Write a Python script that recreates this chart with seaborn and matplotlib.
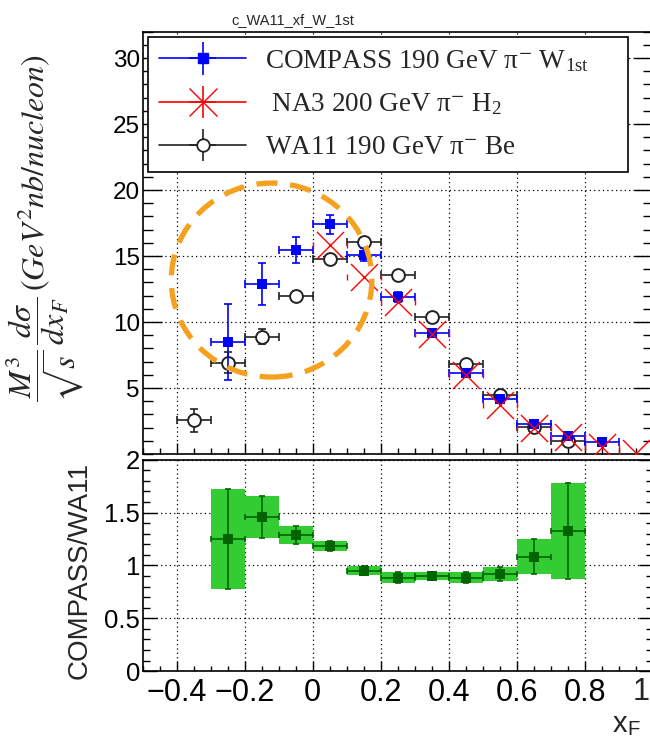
"""
Drell-Yan x_F distribution: COMPASS W (1st) vs NA3 H2 vs WA11 Be, plus
COMPASS/WA11 ratio panel underneath. ROOT-style look, drawn with seaborn.
"""
import matplotlib

matplotlib.use("Agg")
import matplotlib.pyplot as plt  # noqa: E402
import numpy as np  # noqa: E402
import seaborn as sns  # noqa: E402
from matplotlib.legend_handler import HandlerErrorbar  # noqa: E402
from matplotlib.patches import Ellipse  # noqa: E402
from matplotlib.ticker import MultipleLocator  # noqa: E402

# --- data -----------------------------------------------------------------
bin_half = 0.05

compass_xf = [-0.25, -0.15, -0.05, 0.05, 0.15, 0.25, 0.35, 0.45, 0.55, 0.65, 0.75, 0.85]
compass_val = [8.5, 12.9, 15.45, 17.4, 15.1, 11.9, 9.15, 6.1, 4.2, 2.3, 1.35, 0.88]
compass_err = [2.9, 1.6, 1.0, 0.7, 0.5, 0.4, 0.3, 0.25, 0.2, 0.15, 0.12, 0.1]

na3_xf = [0.05, 0.15, 0.25, 0.35, 0.45, 0.55, 0.65, 0.75, 0.85, 0.95]
na3_val = [15.85, 13.4, 11.5, 9.1, 5.95, 3.7, 2.0, 1.3, 0.5, 0.05]

wa11_xf = [-0.35, -0.25, -0.15, -0.05, 0.05, 0.15, 0.25, 0.35, 0.45, 0.55, 0.65, 0.75]
wa11_val = [2.55, 6.9, 8.9, 12.0, 14.8, 16.1, 13.6, 10.35, 6.8, 4.45, 2.05, 1.0]
wa11_err = [0.85, 0.8, 0.55, 0.35, 0.3, 0.3, 0.3, 0.25, 0.2, 0.15, 0.1, 0.1]

ratio_xf = [-0.25, -0.15, -0.05, 0.05, 0.15, 0.25, 0.35, 0.45, 0.55, 0.65, 0.75]
ratio_val = [1.25, 1.46, 1.29, 1.185, 0.95, 0.885, 0.9, 0.885, 0.92, 1.08, 1.325]
ratio_err = [0.47, 0.2, 0.085, 0.05, 0.04, 0.05, 0.04, 0.055, 0.065, 0.165, 0.45]

top_yticks = [5, 10, 15, 20, 25, 30]
bot_yticks = [0, 0.5, 1, 1.5, 2]
bot_yticklabels = ["0", "0.5", "1", "1.5", "2"]
xticks = [-0.4, -0.2, 0, 0.2, 0.4, 0.6, 0.8, 1.0]
# the label of the last tick (on the cropped right edge) is drawn separately
xticklabels = ["\u22120.4", "\u22120.2", "0", "0.2", "0.4", "0.6", "0.8", ""]
edge_label = "1"

labels = [
    "COMPASS 190 GeV \u03c0$^{-}$ W$_{\\mathregular{1st}}$",
    " NA3 200 GeV \u03c0$^{-}$ H$_{\\mathregular{2}}$",
    "WA11 190 GeV \u03c0$^{-}$ Be",
]

# hand-drawn highlight around the low-x_F region (centre, full axes)
circle_xy = (-0.121, 13.18)
circle_w, circle_h = 0.59, 14.7

C_BLUE, C_RED, C_BLACK = "#0000FF", "#FF0000", "#222222"
C_BAND, C_DGREEN = "#33CC33", "#006400"
C_ORANGE = "#F5A01E"

sns.set_theme(style="ticks")
plt.rcParams["font.family"] = ["Liberation Sans", "DejaVu Sans"]
plt.rcParams["mathtext.fontset"] = "stix"
plt.rcParams["axes.edgecolor"] = "black"
plt.rcParams["xtick.color"] = "black"
plt.rcParams["ytick.color"] = "black"

W, H = 650, 740
fig = plt.figure(figsize=(W / 100, H / 100), dpi=100)
ax_top = fig.add_axes([142.7 / W, 1 - 454 / H, 510 / W, 422.3 / H])
ax_bot = fig.add_axes([142.7 / W, 1 - 671.2 / H, 510 / W, 211.6 / H])

# --- top panel --------------------------------------------------------------
ax_top.errorbar(wa11_xf, wa11_val, xerr=bin_half, yerr=wa11_err, fmt="none",
                ecolor=C_BLACK, elinewidth=1.2, capsize=2.8, capthick=1.2, zorder=2)
sns.scatterplot(x=wa11_xf, y=wa11_val, marker="o", s=85, facecolor="white",
                edgecolor=C_BLACK, linewidth=1.4, zorder=3, ax=ax_top)

ax_top.errorbar(compass_xf, compass_val, xerr=bin_half, yerr=compass_err, fmt="none",
                ecolor=C_BLUE, elinewidth=1.2, capsize=2.8, capthick=1.2, zorder=4)
sns.scatterplot(x=compass_xf, y=compass_val, marker="s", s=52, color=C_BLUE,
                edgecolor=C_BLUE, linewidth=0, zorder=5, ax=ax_top)

# NA3: x-error line is hidden behind the big marker in ROOT, only caps show
ax_top.errorbar(na3_xf, na3_val, xerr=bin_half, fmt="none", ecolor=C_RED,
                elinewidth=0, capsize=2.5, capthick=1.0, zorder=6)
sns.scatterplot(x=na3_xf, y=na3_val, marker="x", s=380, color=C_RED,
                linewidth=1.0, zorder=7, ax=ax_top)

ax_top.add_patch(Ellipse(circle_xy, circle_w, circle_h, fill=False,
                         edgecolor=C_ORANGE, lw=3.8, linestyle=(0, (4, 2.4)),
                         zorder=10))

# legend proxies (ROOT "lep" style: line + error bars + marker)
h_compass = ax_top.errorbar([], [], xerr=[], yerr=[], fmt="s-", color=C_BLUE,
                            ms=7, lw=1.2, capsize=0)
h_na3 = ax_top.errorbar([], [], xerr=[], yerr=[], fmt="x-", color=C_RED,
                        ms=20, mew=1.0, lw=1.2, capsize=0)
h_wa11 = ax_top.errorbar([], [], xerr=[], yerr=[], fmt="o-", color=C_BLACK,
                         mfc="white", ms=9, mew=1.3, lw=1.2, capsize=0)
leg = ax_top.legend([h_compass, h_na3, h_wa11], labels,
                    bbox_to_anchor=(148 / W, 1 - 168 / H, 480 / W, 131 / H),
                    bbox_transform=fig.transFigure, loc="upper left",
                    mode="expand", borderaxespad=0, borderpad=0.42,
                    handlelength=3.2, handletextpad=0.7, labelspacing=0.66,
                    fancybox=False, framealpha=1,
                    prop={"family": "Liberation Serif", "size": 19.5},
                    handler_map={type(h_compass): HandlerErrorbar(yerr_size=0.6)})
leg.get_frame().set_edgecolor("black")
leg.get_frame().set_linewidth(1.2)
leg.set_zorder(20)

ax_top.set_xlim(-0.5, 1.0)
ax_top.set_ylim(0, 32)
ax_top.set_yticks(top_yticks)
ax_top.xaxis.set_major_locator(MultipleLocator(0.2))
ax_top.xaxis.set_minor_locator(MultipleLocator(0.05))
ax_top.yaxis.set_minor_locator(MultipleLocator(1))
ax_top.tick_params(axis="both", which="both", direction="in", right=True,
                   top=False, labelbottom=False, width=1.0)
ax_top.tick_params(axis="y", which="major", length=14, labelsize=17.5, pad=2)
ax_top.tick_params(axis="y", which="minor", length=7)
ax_top.tick_params(axis="x", which="major", length=8)
ax_top.tick_params(axis="x", which="minor", length=4)

# --- ratio panel ------------------------------------------------------------
r_val = np.asarray(ratio_val)
r_err = np.asarray(ratio_err)
ax_bot.bar(ratio_xf, 2 * r_err, bottom=r_val - r_err, width=2 * bin_half,
           color=C_BAND, edgecolor="none", zorder=2)
ax_bot.errorbar(ratio_xf, ratio_val, xerr=bin_half, yerr=ratio_err, fmt="none",
                ecolor=C_DGREEN, elinewidth=1.2, capsize=2.5, capthick=1.2, zorder=3)
sns.scatterplot(x=ratio_xf, y=ratio_val, marker="s", s=45, color=C_DGREEN,
                linewidth=0, zorder=4, ax=ax_bot)

ax_bot.set_xlim(-0.5, 1.0)
ax_bot.set_ylim(0, 2)
ax_bot.set_yticks(bot_yticks, bot_yticklabels)
ax_bot.set_xticks(xticks, xticklabels)
ax_bot.xaxis.set_minor_locator(MultipleLocator(0.05))
ax_bot.yaxis.set_minor_locator(MultipleLocator(0.1))
ax_bot.tick_params(axis="both", which="both", direction="in", right=True,
                   top=False, width=1.0)
ax_bot.tick_params(axis="y", which="major", length=10, labelsize=18.5, pad=2)
ax_bot.tick_params(axis="y", which="minor", length=5)
ax_bot.tick_params(axis="x", which="major", length=7, labelsize=22, pad=5)
ax_bot.tick_params(axis="x", which="minor", length=3.5)
ax_bot.annotate(edge_label, xy=(xticks[-1], 0), xycoords=("data", "axes fraction"),
                xytext=(-2, -4), textcoords="offset points", ha="right",
                va="top", fontsize=22, annotation_clip=False)

for ax in (ax_top, ax_bot):
    ax.set_xlabel("")
    ax.set_ylabel("")
    ax.set_axisbelow(True)
    ax.grid(True, which="major", color="black", linestyle=(0, (1, 2.5)), lw=0.9)
    for sp in ax.spines.values():
        sp.set_linewidth(1.2)
        sp.set_color("black")

# --- texts ------------------------------------------------------------------
fig.text(293 / W, 1 - 20 / H, "c_WA11_xf_W_1st", ha="center", va="center",
         fontsize=10.5)
fig.text(45 / W, 1 - 228 / H,
         r"$\dfrac{M^3}{\sqrt{s}}\,\dfrac{d\sigma}{dx_F}\,(GeV^2nb/nucleon)$",
         rotation=90, ha="center", va="center", fontsize=23)
fig.text(80 / W, 1 - 570 / H, "COMPASS/WA11", rotation=90, ha="center",
         va="center", fontsize=20)
fig.text(626 / W, 1 - 738 / H, "x$_{\\mathregular{F}}$", ha="center",
         va="bottom", fontsize=21)

fig.savefig("out.png", dpi=100)
